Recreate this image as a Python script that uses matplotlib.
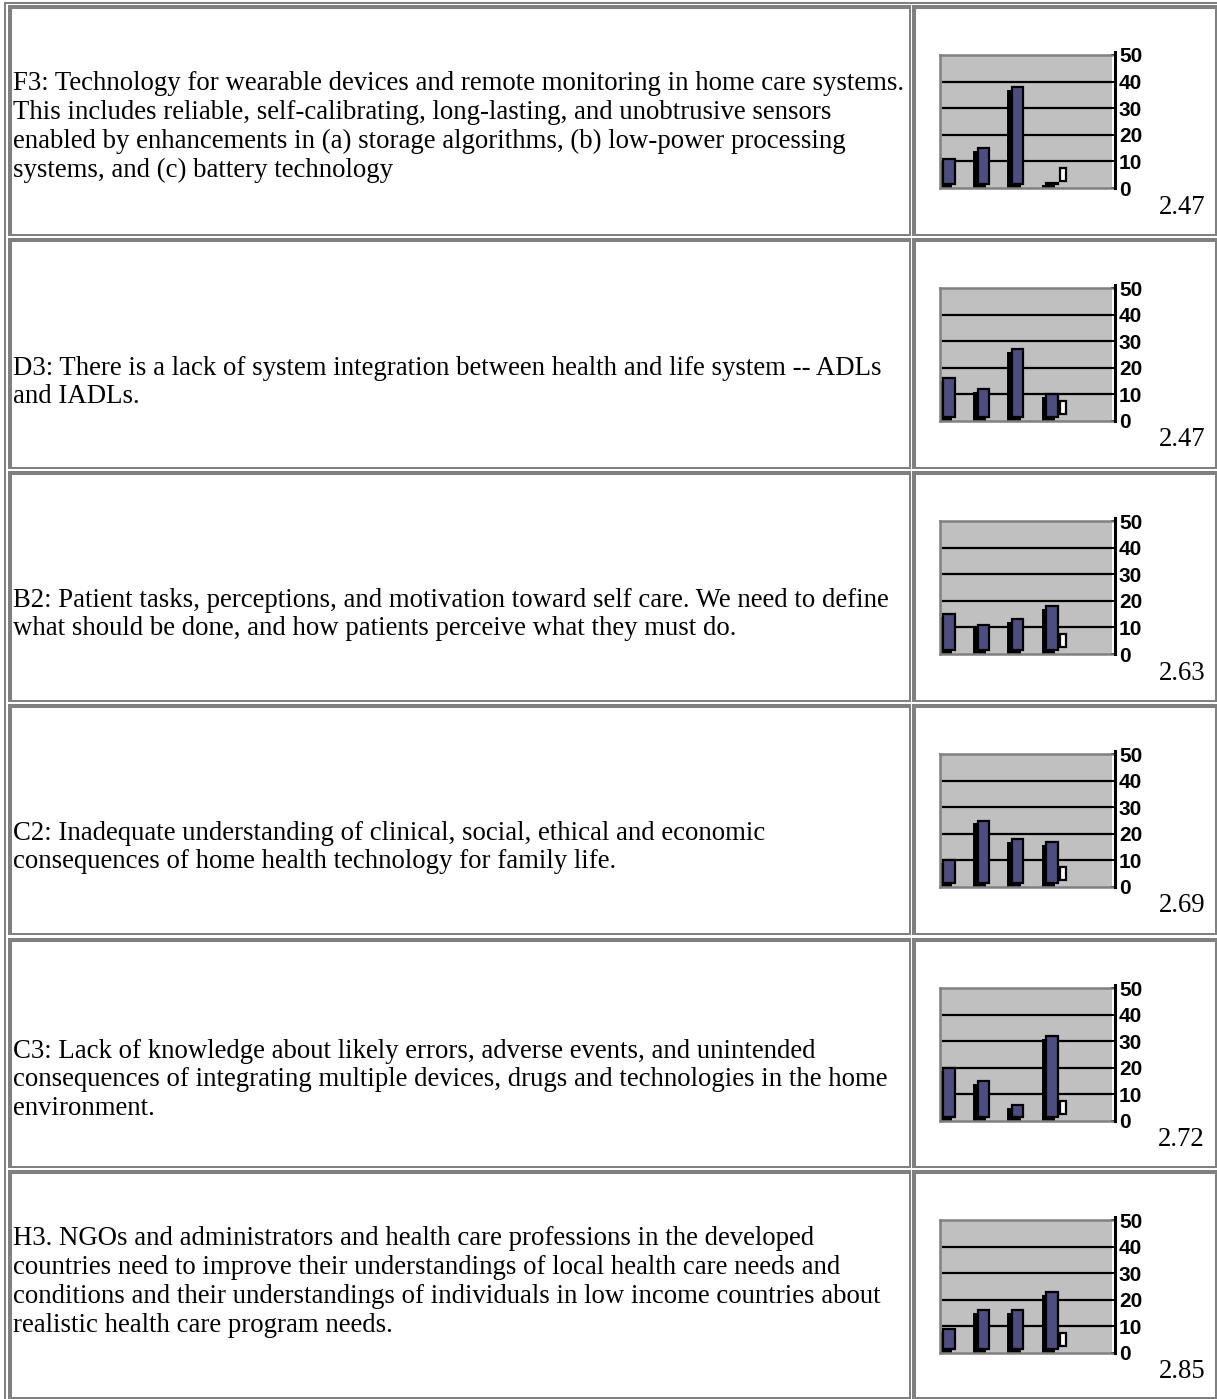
import matplotlib.pyplot as plt
from matplotlib.patches import Rectangle

# survey items, response counts for the four answer levels, and mean scores
item_texts = [
    "F3: Technology for wearable devices and remote monitoring in home care systems.\n"
    "This includes reliable, self-calibrating, long-lasting, and unobtrusive sensors\n"
    "enabled by enhancements in (a) storage algorithms, (b) low-power processing\n"
    "systems, and (c) battery technology",
    "D3: There is a lack of system integration between health and life system -- ADLs\n"
    "and IADLs.",
    "B2: Patient tasks, perceptions, and motivation toward self care. We need to define\n"
    "what should be done, and how patients perceive what they must do.",
    "C2: Inadequate understanding of clinical, social, ethical and economic\n"
    "consequences of home health technology for family life.",
    "C3: Lack of knowledge about likely errors, adverse events, and unintended\n"
    "consequences of integrating multiple devices, drugs and technologies in the home\n"
    "environment.",
    "H3. NGOs and administrators and health care professions in the developed\n"
    "countries need to improve their understandings of local health care needs and\n"
    "conditions and their understandings of individuals in low income countries about\n"
    "realistic health care program needs.",
]
counts_f3 = [11, 15, 38, 1]
counts_d3 = [16, 12, 27, 10]
counts_b2 = [15, 11, 13, 18]
counts_c2 = [10, 25, 18, 17]
counts_c3 = [20, 15, 6, 32]
counts_h3 = [9, 16, 16, 23]
no_answer = [5, 5, 5, 5, 5, 5]
means = [2.47, 2.47, 2.63, 2.69, 2.72, 2.85]
all_counts = [counts_f3, counts_d3, counts_b2, counts_c2, counts_c3, counts_h3]
y_ticks = [0, 10, 20, 30, 40, 50]

W, H = 1217, 1399
BORDER = "#808080"
BAR = "#4d4d80"

fig = plt.figure(figsize=(W / 100, H / 100), dpi=100)
bg = fig.add_axes([0, 0, 1, 1])
bg.set_xlim(0, W)
bg.set_ylim(H, 0)
bg.axis("off")


def box(x0, y0, x1, y1):
    bg.add_patch(Rectangle((x0, y0), x1 - x0, y1 - y0, facecolor=BORDER,
                           edgecolor="none", antialiased=False))


def cell(x0, y0, x1, y1):
    box(x0, y0, x1, y0 + 4)      # top
    box(x0, y0, x0 + 4, y1)      # left
    box(x0, y1 - 2, x1, y1)      # bottom
    box(x1 - 2, y0, x1, y1)      # right


# outer table frame
box(4, 2, W, 3.5)
box(4, 2, 5.5, H)

row_tops = [5, 238, 471, 704, 938, 1170]
row_bottoms = [236, 469, 702, 935, 1168, 1399]
text_centers = [127, 382.5, 614.5, 847.5, 1080, 1282]

for i, (top, bot) in enumerate(zip(row_tops, row_bottoms)):
    cell(8, top, 910.5, bot)
    cell(912, top, 1217, bot)

    bg.text(13, text_centers[i], item_texts[i], family="Liberation Serif",
            fontsize=19.3, va="center", ha="left", linespacing=1.2)
    bg.text(1205, top + 202, f"{means[i]:.2f}", family="Liberation Serif",
            fontsize=19.3, va="center", ha="right")

    # mini bar chart
    px0, px1 = 940, 1112
    py0, py1 = top + 50, top + 183
    ax = fig.add_axes([px0 / W, 1 - py1 / H, (px1 - px0) / W, (py1 - py0) / H])
    ax.set_facecolor("#c0c0c0")
    ax.set_xlim(-0.26, 4.74)
    ax.set_ylim(0, 50)
    for y in y_ticks[1:-1]:
        ax.plot([-0.17, 4.74], [y, y], color="black", lw=1.6, zorder=1)

    w = 0.33
    dx, dy = 0.11, 1.4
    for k, v in enumerate(all_counts[i]):
        ax.add_patch(Rectangle((k - w / 2 - dx, 0), w, max(v - dy, 0.6),
                               facecolor="black", edgecolor="black", lw=1.4, zorder=2))
        ax.add_patch(Rectangle((k - w / 2, dy), w, max(v - dy, 0.3),
                               facecolor=BAR, edgecolor="black", lw=1.6, zorder=3))
    # small unanswered bar sitting behind the last category
    ax.add_patch(Rectangle((3.22, 2.5), 0.17, no_answer[i], facecolor="white",
                           edgecolor="black", lw=1.6, zorder=4))

    for s in ["top", "left", "bottom"]:
        ax.spines[s].set_color(BORDER)
        ax.spines[s].set_linewidth(1.8)
    ax.spines["right"].set_position(("outward", 2))
    ax.spines["right"].set_linewidth(2.2)
    ax.spines["right"].set_bounds(0, 51)
    ax.set_xticks([])
    ax.yaxis.tick_right()
    ax.set_yticks(y_ticks)
    ax.tick_params(axis="y", direction="in", length=3, width=1.4, pad=3,
                   labelsize=15)
    for lab in ax.get_yticklabels():
        lab.set_family("Liberation Sans")
        lab.set_fontweight("bold")

fig.savefig("out.png", dpi=100)
